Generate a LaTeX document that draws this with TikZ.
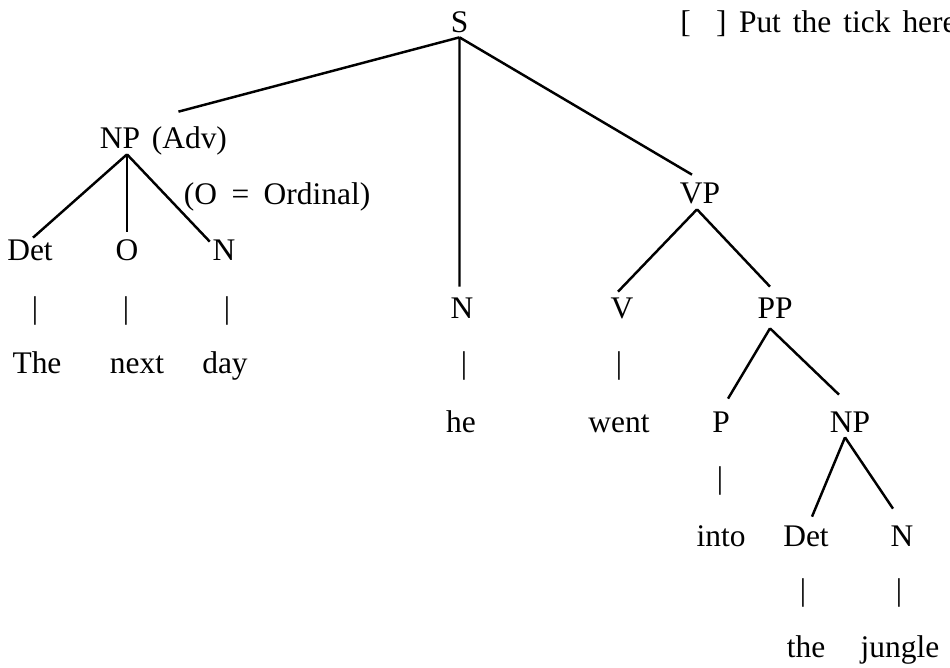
\documentclass[tikz,border=0pt]{standalone}
\usepackage{fontspec}
\setmainfont{Liberation Serif}
\usepackage{tikz}
\usetikzlibrary{positioning}

\begin{document}
\begin{tikzpicture}[x=1cm, y=-1cm,
    every node/.style={font=\fontsize{17.9}{21}\selectfont, inner sep=0pt, anchor=base},
    cat/.style={text height=0.42cm, text depth=0cm},
    word/.style={},
    branch/.style={line width=1.4pt}]
    \useasboundingbox (0,0) rectangle (19,13.34);

    % categories
    \node[cat] (s)    at (9.19,0.66)  {S};
    \node[cat] (npa)  at (2.40,2.96)  {NP};
    \node[word, anchor=base west] (adv) at (3.03,2.96) {(Adv)};
    \node[word, anchor=base west] (ord) at (3.67,4.08)
        {\spaceskip=0.46em (O = Ordinal)};
    \node[cat] (det1) at (0.60,5.20)  {Det};
    \node[cat] (o1)   at (2.54,5.20)  {O};
    \node[cat] (n2)   at (4.48,5.20)  {N};
    \node[cat] (vp)   at (14.00,4.06) {VP};
    \node[cat] (n1)   at (9.24,6.36)  {N};
    \node[cat] (v1)   at (12.44,6.36) {V};
    \node[cat] (pp)   at (15.50,6.36) {PP};
    \node[cat] (p1)   at (14.42,8.64) {P};
    \node[cat] (np2)  at (17.00,8.64) {NP};
    \node[cat] (det2) at (16.12,10.92) {Det};
    \node[cat] (n3)   at (18.04,10.92) {N};

    % words
    \node[word] (w1) at (0.74,7.46)  {The};
    \node[word] (w2) at (2.74,7.46)  {next};
    \node[word] (w3) at (4.50,7.46)  {day};
    \node[word] (w4) at (9.22,8.64)  {he};
    \node[word] (w5) at (12.38,8.64) {went};
    \node[word] (w6) at (14.42,10.92) {into};
    \node[word] (w7) at (16.12,13.14) {the};
    \node[word] (w8) at (18.00,13.14) {jungle};

    % bars between category and word
    \foreach \x/\y [count=\i] in {0.70/6.36, 2.52/6.36, 4.54/6.36, 9.28/7.46,
        12.38/7.46, 14.40/9.76, 16.06/12.00, 17.98/12.00}
        \node[word] (bar\i) at (\x,\y) {|};

    \node[word, anchor=base west] (tick) at (13.60,0.66)
        {\spaceskip=0.38em [\hspace{0.8em}]\hspace{0.4em}Put the tick here};

    % branches
    \draw[branch] ([yshift=-0.08cm]s.south) -- ([xshift=0.76cm,yshift=0.3cm]npa.north east);
    \draw[branch] ([yshift=-0.08cm]s.south) -- ([xshift=-0.05cm,yshift=0.2cm]n1.north);
    \draw[branch] ([yshift=-0.08cm]s.south) -- ([xshift=-0.16cm,yshift=0.14cm]vp.north);

    \draw[branch] ([xshift=0.14cm,yshift=-0.12cm]npa.south) -- ([xshift=0.06cm,yshift=0.02cm]det1.north);
    \draw[branch] ([xshift=0.14cm,yshift=-0.12cm]npa.south) -- ([yshift=0.14cm]o1.north);
    \draw[branch] ([xshift=0.14cm,yshift=-0.12cm]npa.south) -- ([xshift=-0.05cm,yshift=-0.06cm]n2.north west);

    \draw[branch] ([xshift=-0.06cm,yshift=-0.12cm]vp.south) -- ([xshift=-0.08cm,yshift=0.1cm]v1.north);
    \draw[branch] ([xshift=-0.06cm,yshift=-0.12cm]vp.south) -- ([xshift=-0.1cm,yshift=0.2cm]pp.north);

    \draw[branch] ([xshift=-0.1cm,yshift=-0.2cm]pp.south) -- ([xshift=0.14cm,yshift=0.24cm]p1.north);
    \draw[branch] ([xshift=-0.1cm,yshift=-0.2cm]pp.south) -- ([xshift=-0.22cm,yshift=0.32cm]np2.north);

    \draw[branch] ([xshift=-0.1cm,yshift=-0.1cm]np2.south) -- ([xshift=0.12cm,yshift=0.16cm]det2.north);
    \draw[branch] ([xshift=-0.1cm,yshift=-0.1cm]np2.south) -- ([xshift=-0.18cm,yshift=0.32cm]n3.north);
\end{tikzpicture}
\end{document}
